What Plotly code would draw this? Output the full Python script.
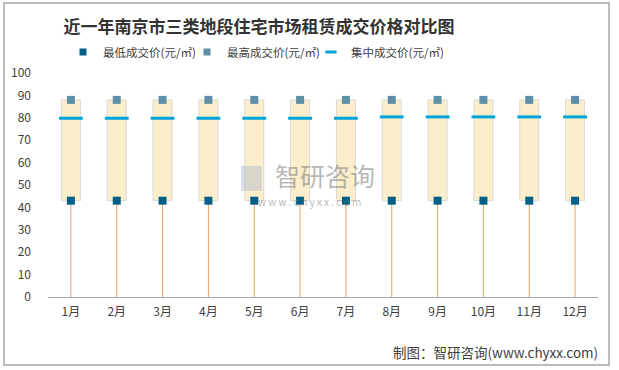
import plotly.graph_objects as go

months = ["1月", "2月", "3月", "4月", "5月", "6月", "7月", "8月", "9月", "10月", "11月", "12月"]
low_price = [43, 43, 43, 43, 43, 43, 43, 43, 43, 43, 43, 43]
high_price = [88, 88, 88, 88, 88, 88, 88, 88, 88, 88, 88, 88]
mid_price = [79.8, 79.8, 79.8, 79.8, 79.8, 79.8, 79.8, 80.4, 80.4, 80.4, 80.4, 80.4]
y_ticks = [0, 10, 20, 30, 40, 50, 60, 70, 80, 90, 100]
names = ["最低成交价(元/㎡)", "最高成交价(元/㎡)", "集中成交价(元/㎡)"]

FONT = "Noto Sans CJK SC"
C_LOW, C_HIGH, C_MID = "#005F86", "#5E8FA8", "#00A3DA"

fig = go.Figure()

# up-down box between low and high
fig.add_trace(go.Bar(
    x=months, base=low_price,
    y=[h - l for h, l in zip(high_price, low_price)],
    width=0.415,
    marker=dict(color="#FCEECB", line=dict(color="#D9D9D9", width=1)),
    showlegend=False, hoverinfo="skip"))

# low markers with drop line to 0
fig.add_trace(go.Scatter(
    x=months, y=low_price, mode="markers", name=names[0], showlegend=False,
    marker=dict(symbol="square", size=8, color=C_LOW),
    error_y=dict(type="data", symmetric=False, array=[0] * len(months),
                 arrayminus=low_price, width=0, thickness=1, color="#F0A35E")))

fig.add_trace(go.Scatter(
    x=months, y=high_price, mode="markers", name=names[1], showlegend=False,
    marker=dict(symbol="square", size=8, color=C_HIGH)))

fig.add_trace(go.Scatter(
    x=months, y=mid_price, mode="markers", name=names[2], showlegend=False,
    marker=dict(symbol="line-ew", size=17, color=C_MID,
                line=dict(color=C_MID, width=3))))

# legend-only entries
fig.add_trace(go.Scatter(x=[None], y=[None], mode="markers", name=names[0],
                         marker=dict(symbol="square", size=7, color=C_LOW)))
fig.add_trace(go.Scatter(x=[None], y=[None], mode="markers", name=names[1],
                         marker=dict(symbol="square", size=7, color=C_HIGH)))
fig.add_trace(go.Scatter(x=[None], y=[None], mode="markers", name=names[2],
                         legendwidth=110,
                         marker=dict(symbol="line-ew", size=8, color=C_MID,
                                     line=dict(color=C_MID, width=3))))

fig.update_layout(
    width=619, height=370,
    margin=dict(l=48, r=21, t=73, b=73, autoexpand=False),
    paper_bgcolor="white", plot_bgcolor="white",
    font=dict(family=FONT, size=12, color="#404040"),
    title=dict(text="<b>近一年南京市三类地段住宅市场租赁成交价格对比图</b>",
               font=dict(family=FONT, size=17, color="#333333"),
               x=(259 - 48) / 550, xref="paper", xanchor="center",
               y=1 - 27 / 370, yanchor="middle"),
    legend=dict(orientation="h", xref="container", yref="container",
                x=63 / 619, xanchor="left",
                y=1 - 52 / 370, yanchor="middle",
                font=dict(family=FONT, size=11.5, color="#404040"),
                itemwidth=30, tracegroupgap=0,
                entrywidth=79, entrywidthmode="pixels"),
    xaxis=dict(type="category", range=[-0.5, 11.5], showgrid=False,
               showline=True, linecolor="#A6A6A6", linewidth=1,
               ticks="", tickfont=dict(size=12, color="#404040"),
               ticklabelstandoff=4),
    yaxis=dict(range=[0, 100], tickvals=y_ticks, showgrid=False,
               zeroline=False, showline=False, ticks="",
               tickfont=dict(size=12, color="#404040"), ticklabelstandoff=16),
    showlegend=True,
)

# outer border
fig.add_shape(type="rect", xref="paper", yref="paper",
              x0=(4 - 48) / 550, x1=(609 - 48) / 550,
              y0=(297 - 365) / 224, y1=(297 - 3) / 224,
              line=dict(color="#A6A6A6", width=1.5), fillcolor="rgba(0,0,0,0)",
              layer="below")

# watermark
fig.add_shape(type="rect", xref="paper", yref="paper",
              x0=(241 - 48) / 550, x1=(262 - 48) / 550,
              y0=(297 - 191) / 224, y1=(297 - 166) / 224,
              line=dict(width=0), fillcolor="rgba(150,170,200,0.35)", layer="above")
fig.add_annotation(text="智研咨询", xref="paper", yref="paper",
                   x=(325 - 48) / 550, y=(297 - 175) / 224, showarrow=False,
                   font=dict(family=FONT, size=25, color="rgba(120,120,120,0.55)"))
fig.add_annotation(text="w w w . c h y x x . c o m", xref="paper", yref="paper",
                   x=(309 - 48) / 550, y=(297 - 201) / 224, showarrow=False,
                   font=dict(family=FONT, size=10, color="rgba(120,120,120,0.55)"))

# source
fig.add_annotation(text="制图：智研咨询(www.chyxx.com)", xref="paper", yref="paper",
                   x=(600 - 48) / 550, y=(297 - 352) / 224, xanchor="right",
                   yanchor="middle", showarrow=False,
                   font=dict(family=FONT, size=13.5, color="#404040"))

fig.write_html("out.html", config={"displayModeBar": False},
               post_script="document.body.style.margin='0';")
